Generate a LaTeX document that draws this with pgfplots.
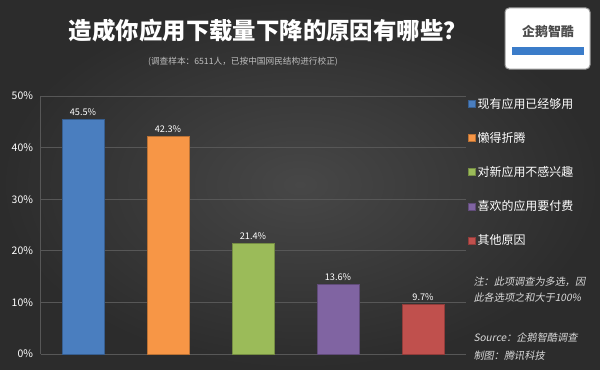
\documentclass[border=0pt]{standalone}
\usepackage{pgfplots}
\pgfplotsset{compat=1.18}
\usepackage{fontspec}
\setmainfont{Noto Sans CJK SC}
\newfontfamily\cjkit{Noto Sans CJK SC}[FakeSlant=0.2]
\definecolor{bgin}{HTML}{474747}
\definecolor{bgout}{HTML}{2C2C2C}
\definecolor{gridc}{HTML}{575757}
\definecolor{cblue}{HTML}{4A7EBF}
\definecolor{corange}{HTML}{F79646}
\definecolor{cgreen}{HTML}{9BBB59}
\definecolor{cpurple}{HTML}{8064A2}
\definecolor{cred}{HTML}{C0504D}
\definecolor{logoblue}{HTML}{3B7CC9}
\begin{document}
\begin{tikzpicture}[x=1bp,y=1bp]
\useasboundingbox (0,0) rectangle (600,369);
\shade[inner color=bgin, outer color=bgout] (0,0) rectangle (600,369);
\node[text=white, font=\fontsize{23.5}{25}\selectfont\bfseries] at (268,338) {造成你应用下载量下降的原因有哪些？};
\node[text=black!25, font=\fontsize{8.7}{10}\selectfont] at (243,307) {(调查样本：6511人，已按中国网民结构进行校正)};
% logo
\draw[rounded corners=4bp, fill=white, draw=black!40, line width=1bp] (505,300) rectangle (590,361);
\node[font=\fontsize{13}{14}\selectfont\bfseries, text=black!70] at (548,337) {企鹅智酷};
\fill[logoblue] (512,314) rectangle (584,322);
\begin{axis}[
  at={(40.5bp,15bp)}, anchor=south west,
  scale only axis, width=425bp, height=258bp,
  xmin=-0.5, xmax=4.5, ymin=0, ymax=50,
  ytick={0,10,...,50}, xtick=\empty,
  yticklabel={\pgfmathprintnumber{\tick}\%},
  /pgf/number format/assume math mode=true,
  tick label style={text=white!90, font=\fontsize{10.5}{12}\selectfont},
  yticklabel style={xshift=-4bp},
  major tick length=0pt,
  ymajorgrids, grid style={color=gridc, line width=0.7bp},
  axis x line*=bottom, axis y line*=left,
  axis line style={color=gridc, line width=0.7bp, -},
  ybar, bar width=0.494, bar shift=0pt,
  nodes near coords={\pgfmathprintnumber[fixed,fixed zerofill,precision=1]{\pgfplotspointmeta}\%},
  nodes near coords style={text=white, font=\fontsize{9.2}{10}\selectfont},
  legend image code/.code={\fill[#1] (0bp,-3.5bp) rectangle (7bp,3.5bp);},
  legend style={at={(1.006,1.0)}, anchor=north west, draw=none, fill=none,
    text=white, font=\fontsize{12}{13}\selectfont, row sep=18.5bp,
    inner sep=0pt, cells={anchor=west}},
]
\addplot[fill=cblue, draw=cblue!75!black] coordinates {(0,45.5)};
\addplot[fill=corange, draw=corange!75!black] coordinates {(1,42.3)};
\addplot[fill=cgreen, draw=cgreen!75!black] coordinates {(2,21.4)};
\addplot[fill=cpurple, draw=cpurple!75!black] coordinates {(3,13.6)};
\addplot[fill=cred, draw=cred!75!black] coordinates {(4,9.7)};
\legend{现有应用已经够用,懒得折腾,对新应用不感兴趣,喜欢的应用要付费,其他原因}
\end{axis}
\node[anchor=west, text=black!15, font=\fontsize{10.2}{12}\selectfont\cjkit] at (470,87) {注：此项调查为多选，因};
\node[anchor=west, text=black!15, font=\fontsize{10.2}{12}\selectfont\cjkit] at (470,71) {此各选项之和大于100\%};
\node[anchor=west, text=black!15, font=\fontsize{10.2}{12}\selectfont\cjkit] at (470,31) {Source：企鹅智酷调查};
\node[anchor=west, text=black!15, font=\fontsize{10.2}{12}\selectfont\cjkit] at (470,13) {制图：腾讯科技};
\end{tikzpicture}
\end{document}
